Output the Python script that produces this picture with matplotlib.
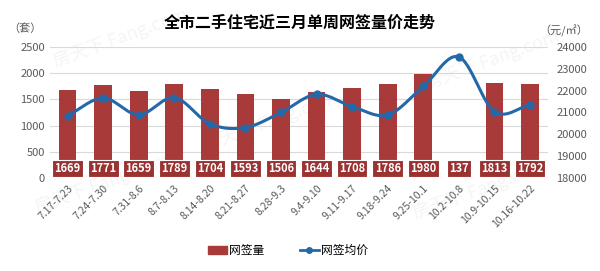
import numpy as np
import matplotlib.pyplot as plt
from matplotlib.lines import Line2D
from matplotlib.patches import Patch

plt.rcParams['font.family'] = ['Noto Sans CJK SC', 'DejaVu Sans']

# 数据
weeks = ['7.17-7.23', '7.24-7.30', '7.31-8.6', '8.7-8.13', '8.14-8.20', '8.21-8.27',
         '8.28-9.3', '9.4-9.10', '9.11-9.17', '9.18-9.24', '9.25-10.1', '10.2-10.8',
         '10.9-10.15', '10.16-10.22']
volume = [1669, 1771, 1659, 1789, 1704, 1593, 1506, 1644, 1708, 1786, 1980, 137, 1813, 1792]
price = [20850, 21660, 20890, 21680, 20480, 20310, 21000, 21830, 21270, 20890, 22190,
         23540, 21040, 21350]

bar_color = '#A93A3A'
box_color = '#9B3232'
line_color = '#2369A9'
tick_color = '#595959'


def smooth(x, y, n=30):
    """ Catmull-Rom 平滑曲线 """
    x = np.asarray(x, float)
    y = np.asarray(y, float)
    px = np.concatenate([[2 * x[0] - x[1]], x, [2 * x[-1] - x[-2]]])
    py = np.concatenate([[2 * y[0] - y[1]], y, [2 * y[-1] - y[-2]]])
    xs, ys = [], []
    t = np.linspace(0, 1, n)
    for i in range(1, len(px) - 2):
        for p, out in ((px, xs), (py, ys)):
            p0, p1, p2, p3 = p[i - 1], p[i], p[i + 1], p[i + 2]
            out.extend(0.5 * (2 * p1 + (-p0 + p2) * t + (2 * p0 - 5 * p1 + 4 * p2 - p3) * t ** 2
                              + (-p0 + 3 * p1 - 3 * p2 + p3) * t ** 3))
    return np.array(xs), np.array(ys)


fig = plt.figure(figsize=(6, 2.71), dpi=100)
ax = fig.add_axes([0.083, 0.343, 0.83, 0.484])
ax.set_facecolor('none')
x = np.arange(len(weeks))

# 水印（放在坐标轴后面）
for wx, wy in [(0.2, 0.86), (0.17, 0.32), (0.45, 0.55), (0.82, 0.78), (0.8, 0.3)]:
    fig.text(wx, wy, '房天下 Fang.com', rotation=20, fontsize=13, color='#F5F5F5',
             ha='center', va='center', zorder=-1)

ax.bar(x, volume, width=0.5, color=bar_color, zorder=2)
ax.set_ylim(0, 2500)
ax.set_yticks(range(0, 2501, 500))
ax.set_xlim(-0.5, len(weeks) - 0.5)
ax.grid(axis='y', color='#D9D9D9', linewidth=0.8, zorder=0)
for s in ax.spines.values():
    s.set_visible(False)
ax.tick_params(axis='both', length=0, colors=tick_color, labelsize=8)
ax.set_xticks(x)
ax.set_xticklabels(weeks, rotation=45, ha='right', va='top', rotation_mode='anchor',
                   fontsize=7.5, color=tick_color)

# 数值标签
for xi, v in zip(x, volume):
    ax.text(xi, 185, str(v), ha='center', va='center', color='white', fontsize=8,
            fontweight='bold', zorder=5,
            bbox=dict(boxstyle='square,pad=0.2', fc=box_color, ec='white', lw=0.8))

ax2 = ax.twinx()
ax2.set_ylim(18000, 24000)
ax2.set_yticks(range(18000, 24001, 1000))
for s in ax2.spines.values():
    s.set_visible(False)
ax2.tick_params(axis='y', length=0, colors=tick_color, labelsize=8, pad=6)
sx, sy = smooth(x, price)
ax2.plot(sx, sy, color=line_color, linewidth=2.2, zorder=3)
ax2.plot(x, price, 'o', color=line_color, markersize=5, zorder=4)

# 标题和单位
fig.text(0.5, 0.918, '全市二手住宅近三月单周网签量价走势', ha='center', va='center',
         fontsize=11.5, fontweight='bold', color='black')
fig.text(0.042, 0.893, '（套）', ha='center', va='center', fontsize=8, color=tick_color)
fig.text(0.94, 0.885, '（元/㎡）', ha='center', va='center', fontsize=8, color=tick_color)

handles = [Patch(color=bar_color, label='网签量'),
           Line2D([], [], color=line_color, lw=2, marker='o', markersize=4, label='网签均价')]
fig.legend(handles=handles, loc='center', bbox_to_anchor=(0.48, 0.075), ncol=2, frameon=False,
           fontsize=8.5, handlelength=1.6, handleheight=0.6, columnspacing=3, handletextpad=0.2)

plt.savefig('out.png', dpi=100)
